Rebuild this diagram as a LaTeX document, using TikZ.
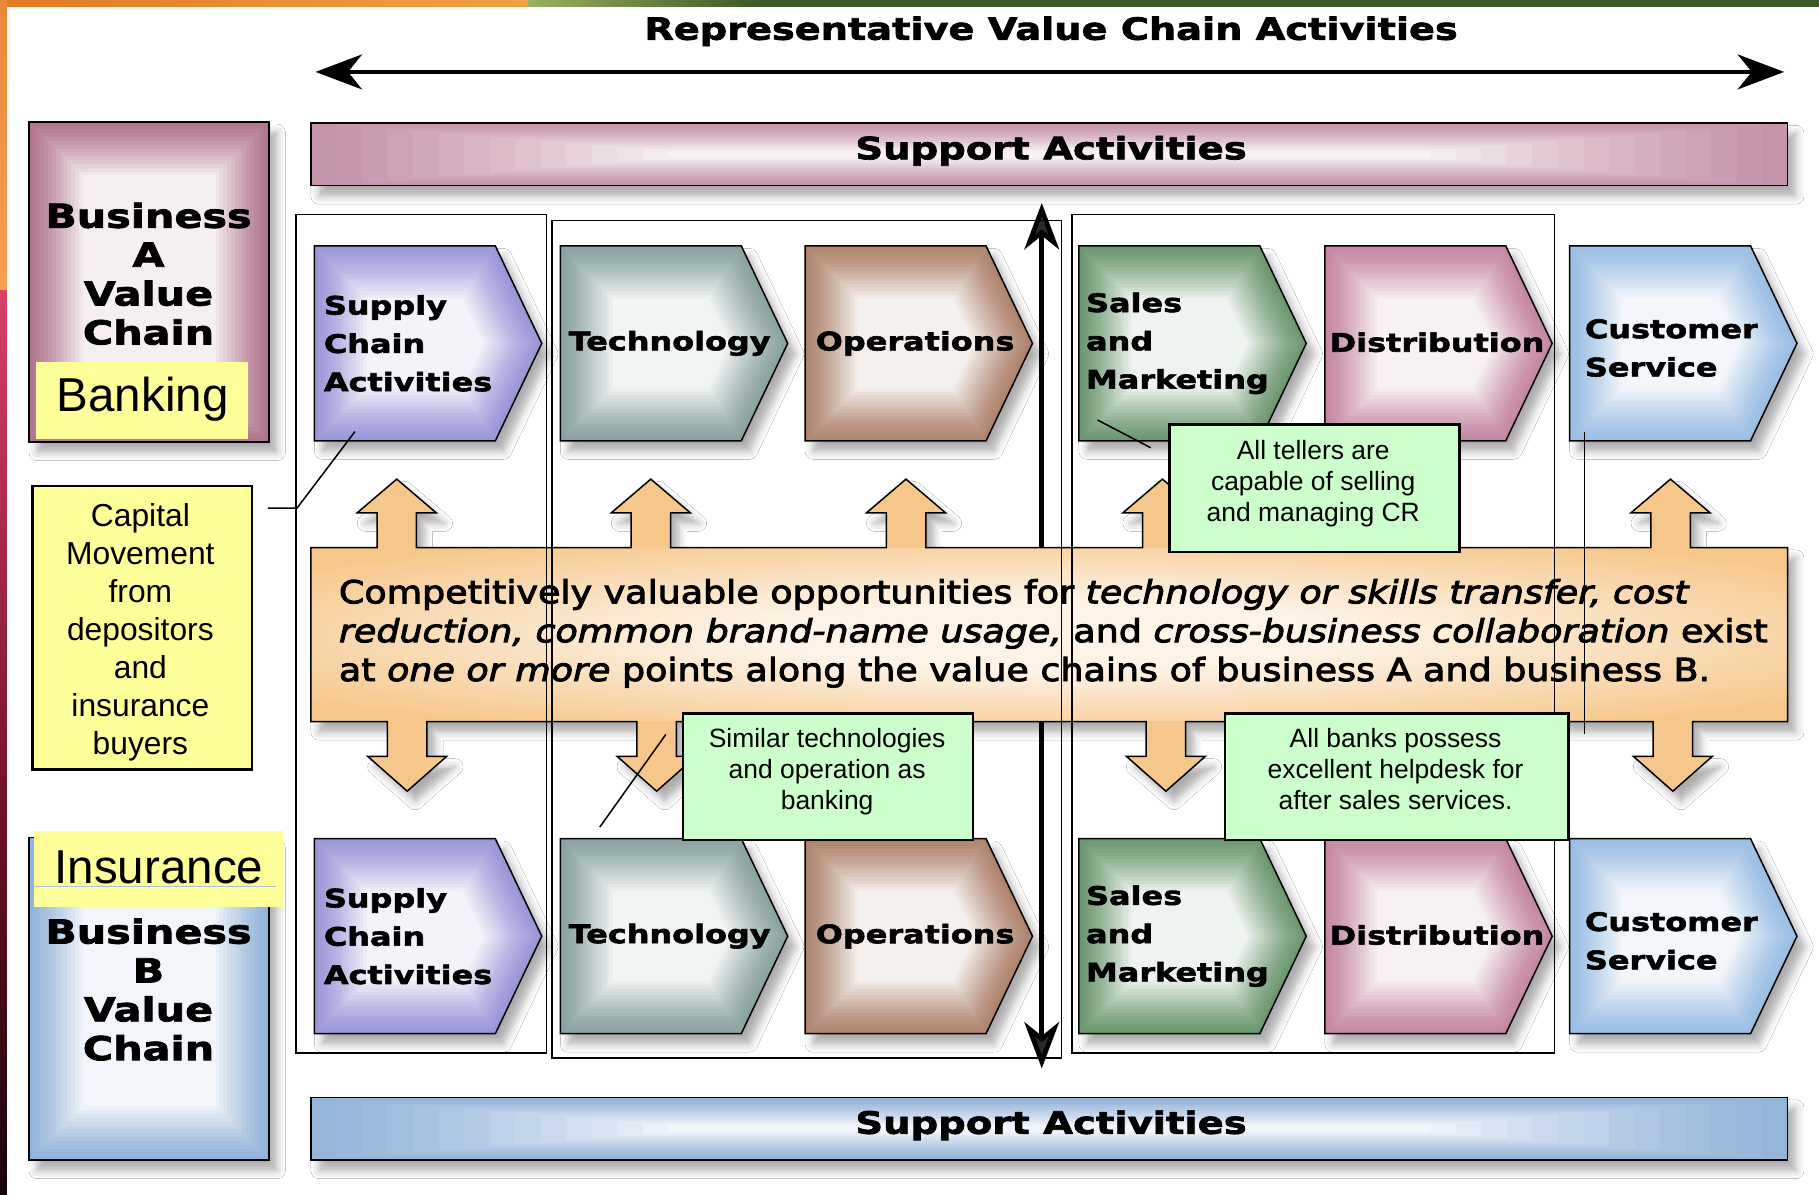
\documentclass[tikz,border=0pt]{standalone}
\usepackage{fontspec}
\setmainfont{Liberation Sans}
\newfontfamily\heavyfont{DejaVu Sans}[FakeStretch=1.25, BoldFeatures={FakeBold=2.2}]
\newfontfamily\bandfont{DejaVu Sans}[FakeStretch=1.15, UprightFeatures={FakeBold=3}, ItalicFeatures={FakeBold=3}]
\usetikzlibrary{arrows.meta, shadows.blur}

\definecolor{chSupply}{HTML}{9A97D8}
\definecolor{chTech}{HTML}{8AA3A0}
\definecolor{chOps}{HTML}{AE846C}
\definecolor{chSales}{HTML}{6C9870}
\definecolor{chDist}{HTML}{C488A2}
\definecolor{chCust}{HTML}{9ABFE2}
\definecolor{bizA}{HTML}{B0768E}
\definecolor{bizB}{HTML}{92B4D8}
\definecolor{supA}{HTML}{C494AA}
\definecolor{supB}{HTML}{94B4D8}
\definecolor{noteYellow}{HTML}{FFFF99}
\definecolor{noteGreen}{HTML}{CCFFCC}
\definecolor{bandOrange}{HTML}{F6C78A}
\definecolor{bandLight}{HTML}{FDF3E6}
\definecolor{edgeOrangeA}{HTML}{E07A28}
\definecolor{edgeOrangeB}{HTML}{F0A048}
\definecolor{edgeOlive}{HTML}{9CB060}
\definecolor{edgeGreen}{HTML}{3C5A2A}
\definecolor{edgeGreenDark}{HTML}{3A5828}
\definecolor{edgeSideA}{HTML}{E88838}
\definecolor{edgeSideB}{HTML}{F4A050}
\definecolor{edgeRed}{HTML}{D8406A}
\definecolor{edgeWine}{HTML}{701028}
\definecolor{edgeBlack}{HTML}{180408}
\definecolor{rulerBlue}{HTML}{AABED7}

\pgfdeclareradialshading{bandglow}{\pgfpoint{0bp}{0bp}}{color(0bp)=(bandLight); color(10bp)=(bandLight); color(32bp)=(bandOrange); color(50bp)=(bandOrange)}

\tikzset{
  softshadow/.style={blur shadow={shadow xshift=7pt, shadow yshift=-9pt, shadow blur radius=7pt, shadow opacity=32}},
  chevtext/.style={inner sep=0pt, align=left, anchor=west, font=\heavyfont\bfseries\fontsize{22}{33}\selectfont},
  bigtext/.style={inner sep=0pt, align=center, font=\heavyfont\bfseries\fontsize{28.5}{33.5}\selectfont},
  bartext/.style={inner sep=0pt, font=\heavyfont\bfseries\fontsize{26.6}{30}\selectfont},
  framebox/.style={draw=black, line width=1.5pt},
  greenbox/.style={draw=black, line width=2pt, fill=noteGreen, inner sep=0pt, anchor=north west},
  greentext/.style={inner sep=0pt, align=center, font=\fontsize{22.8}{26.7}\selectfont},
  yellowbox/.style={fill=noteYellow, inner sep=0pt, anchor=north west},
  callout/.style={draw=black, line width=1.3pt},
  bigarrow/.style={line width=4pt, {Stealth[length=40pt,width=30pt,inset=12pt]}-{Stealth[length=40pt,width=30pt,inset=12pt]}},
}

% bevelled box: x1 y1 x2 y2 colour dx dy
\newcommand\bevelbox[7]{%
  \path[softshadow, fill=#5] (#1,#2) rectangle (#3,#4);
  \foreach \i in {0,...,14}{%
    \pgfmathtruncatemacro\p{100-88*(\i/14)^1.25}%
    \fill[#5!\p!white] ({#1+#6*\i},{#2+#7*\i}) rectangle ({#3-#6*\i},{#4-#7*\i});
  }
  \draw[line width=1.3pt] (#1,#2) rectangle (#3,#4);
}

% bevelled chevron: left x, top y, colour
\newcommand\chevron[3]{%
  \path[softshadow, fill=#3] (#1,#2) -- ++(156,0) -- ++(40,84) -- ++(-40,84) -- ++(-156,0) -- cycle;
  \foreach \i in {0,...,15}{%
    \pgfmathsetmacro\d{3*\i}%
    \pgfmathtruncatemacro\p{100-88*(\i/15)^1.25}%
    \fill[#3!\p!white] ({#1+\d},{#2+\d}) -- ({#1+156-0.63*\d},{#2+\d}) -- ({#1+196-1.107*\d},{#2+84})
      -- ({#1+156-0.63*\d},{#2+168-\d}) -- ({#1+\d},{#2+168-\d}) -- cycle;
  }
  \draw[line width=1.3pt] (#1,#2) -- ++(156,0) -- ++(40,84) -- ++(-40,84) -- ++(-156,0) -- cycle;
}

% outline of the opportunity band with its up and down arrows
\def\bandpath{(268,472) -- (325,472) -- (325,442) -- (308,442) -- (342,413) -- (376,442) -- (359,442) -- (359,472)
 -- (544,472) -- (544,442) -- (527,442) -- (561,413) -- (595,442) -- (578,442) -- (578,472)
 -- (764,472) -- (764,442) -- (747,442) -- (781,413) -- (815,442) -- (798,442) -- (798,472)
 -- (985,472) -- (985,442) -- (968,442) -- (1002,413) -- (1036,442) -- (1019,442) -- (1019,472)
 -- (1423,472) -- (1423,442) -- (1406,442) -- (1440,413) -- (1474,442) -- (1457,442) -- (1457,472)
 -- (1541,472) -- (1541,622)
 -- (1459,622) -- (1459,652) -- (1476,652) -- (1442,682) -- (1408,652) -- (1425,652) -- (1425,622)
 -- (1022,622) -- (1022,652) -- (1039,652) -- (1005,682) -- (971,652) -- (988,652) -- (988,622)
 -- (583,622) -- (583,652) -- (600,652) -- (566,682) -- (532,652) -- (549,652) -- (549,622)
 -- (368,622) -- (368,652) -- (385,652) -- (351,682) -- (317,652) -- (334,652) -- (334,622)
 -- (268,622) -- cycle}

\begin{document}
\begin{tikzpicture}[x=1pt, y=-1pt]
\useasboundingbox (0,0) rectangle (1568,1030);
\fill[white] (0,0) rectangle (1568,1030);

% slide edges
\shade[left color=edgeOrangeA, right color=edgeOrangeB] (0,0) rectangle (455,6);
\shade[left color=edgeOlive, right color=edgeGreen] (455,0) rectangle (650,6);
\fill[edgeGreenDark] (650,0) rectangle (1568,6);
\shade[top color=edgeSideA, bottom color=edgeSideB] (0,0) rectangle (6,250);
\shade[top color=edgeRed, bottom color=edgeWine] (0,250) rectangle (6,700);
\shade[top color=edgeWine, bottom color=edgeBlack] (0,700) rectangle (6,1030);

% heading and span arrow
\node[bartext, font=\heavyfont\bfseries\fontsize{26.4}{30}\selectfont] (title) at (906,27) {Representative Value Chain Activities};
\coordinate (spanL) at (272,62);
\coordinate (spanR) at (1538,62);
\draw[bigarrow] (spanL) -- (spanR);

% support activity bars
\bevelbox{268}{106}{1541}{160}{supA}{22}{1.7}
\node[bartext] (supportA) at (906,130) {Support Activities};
\bevelbox{268}{946}{1541}{1000}{supB}{22}{1.7}
\node[bartext] (supportB) at (906,970) {Support Activities};

% business value chain boxes
\bevelbox{25}{105}{232}{381}{bizA}{3.3}{3.3}
\node[bigtext] (bizAtext) at (128,236) {Business\\A\\Value\\Chain};
\bevelbox{25}{722}{232}{1000}{bizB}{3.3}{3.3}
\node[bigtext] (bizBtext) at (128,853) {Business\\B\\Value\\Chain};

% primary activities, business A
\chevron{271}{212}{chSupply}
\chevron{483}{212}{chTech}
\chevron{694}{212}{chOps}
\chevron{930}{212}{chSales}
\chevron{1142}{212}{chDist}
\chevron{1353}{212}{chCust}
\node[chevtext] (supplyA) at (279,296) {Supply\\Chain\\Activities};
\node[chevtext] (techA) at (490,296) {Technology};
\node[chevtext] (opsA) at (703,296) {Operations};
\node[chevtext] (salesA) at (936,296) {Sales\\and\\Marketing};
\node[chevtext] (distA) at (1146,295) {Distribution};
\node[chevtext] (custA) at (1366,300) {Customer\\Service};

% primary activities, business B
\chevron{271}{723}{chSupply}
\chevron{483}{723}{chTech}
\chevron{694}{723}{chOps}
\chevron{930}{723}{chSales}
\chevron{1142}{723}{chDist}
\chevron{1353}{723}{chCust}
\node[chevtext] (supplyB) at (279,807) {Supply\\Chain\\Activities};
\node[chevtext] (techB) at (490,807) {Technology};
\node[chevtext] (opsB) at (703,807) {Operations};
\node[chevtext] (salesB) at (936,807) {Sales\\and\\Marketing};
\node[chevtext] (distB) at (1146,806) {Distribution};
\node[chevtext] (custB) at (1366,811) {Customer\\Service};

% vertical link between the two chains
\coordinate (linkTop) at (898,175);
\coordinate (linkBot) at (898,921);
\draw[bigarrow] (linkBot) -- (linkTop);

% opportunity band
\path[softshadow, fill=bandOrange] \bandpath;
\shade[shading=bandglow] (269,473) rectangle (1540,621);
\draw[line width=1.3pt] \bandpath;
\node[anchor=west, align=left, inner sep=0pt, font=\bandfont\fontsize{27.3}{33.5}\selectfont] (bandtext) at (292,546)
 {Competitively valuable opportunities for \textit{technology or skills transfer, cost}\\
  \textit{reduction, common brand-name usage,} and \textit{cross-business collaboration} exist\\
  at \textit{one or more} points along the value chains of business A and business B.};

% grouping frames
\draw[framebox] (255,185) rectangle (471,908);
\draw[framebox] (476,190) rectangle (915,912);
\draw[framebox] (924,185) rectangle (1340,908);

% notes
\node[greenbox, minimum width=250pt, minimum height=110pt] (tellers) at (1007,365) {};
\node[greentext] (tellersText) at (1132,417) {All tellers are\\capable of selling\\and managing CR};
\node[greenbox, minimum width=250pt, minimum height=109pt] (similar) at (588,614) {};
\node[greentext] (similarText) at (713,665) {Similar technologies\\and operation as\\banking};
\node[greenbox, minimum width=296pt, minimum height=109pt] (helpdesk) at (1055,614) {};
\node[greentext] (helpdeskText) at (1203,663) {All banks possess\\excellent helpdesk for\\after sales services.};

\node[yellowbox, minimum width=183pt, minimum height=66pt] (banking) at (31,312) {};
\node[inner sep=0pt, font=\fontsize{41}{45}\selectfont] (bankingText) at (123,344) {Banking};
\node[yellowbox, minimum width=215pt, minimum height=66pt] (insurance) at (29,716) {};
\draw[line width=0.6pt, color=rulerBlue] (29,764) -- (238,764);
\node[inner sep=0pt, font=\fontsize{41}{45}\selectfont] (insuranceText) at (137,748) {Insurance};
\node[draw=black, line width=2.2pt, fill=noteYellow, minimum width=189pt, minimum height=244pt, anchor=north west, inner sep=0pt] (capital) at (27,418) {};
\node[inner sep=0pt, align=center, font=\fontsize{27.4}{32.7}\selectfont] (capitalText) at (121,545) {Capital\\Movement\\from\\depositors\\and\\insurance\\buyers};

% callout leaders
\coordinate (capTail) at (231,438);
\coordinate (capBend) at (256,438);
\coordinate (capHead) at (306,372);
\draw[callout] (capTail) -- (capBend) -- (capHead);
\coordinate (tellTail) at (992,386);
\coordinate (tellHead) at (946,362);
\draw[callout] (tellTail) -- (tellHead);
\coordinate (simTail) at (574,633);
\coordinate (simHead) at (517,713);
\draw[callout] (simTail) -- (simHead);
\coordinate (helpTail) at (1366,633);
\coordinate (helpHead) at (1366,372);
\draw[callout] (helpTail) -- (helpHead);
\end{tikzpicture}
\end{document}
